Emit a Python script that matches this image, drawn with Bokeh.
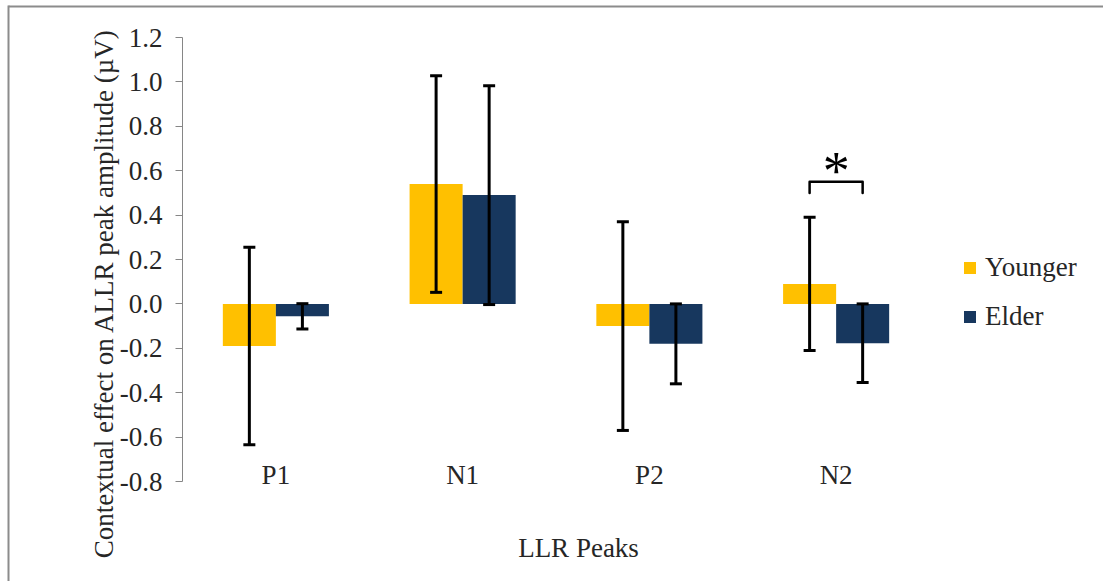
import math

from bokeh.core.properties import value
from bokeh.embed import file_html
from bokeh.models import (ColumnDataSource, FixedTicker, Label, Legend, LegendItem,
                          NumeralTickFormatter, PolyAnnotation, Range1d, TeeHead, Whisker)
from bokeh.plotting import figure
from bokeh.resources import INLINE

# ---- data -------------------------------------------------------------
peaks = ["P1", "N1", "P2", "N2"]
younger = [-0.19, 0.54, -0.10, 0.09]
younger_err = [0.445, 0.488, 0.47, 0.30]
elder = [-0.056, 0.49, -0.18, -0.177]
elder_err = [0.057, 0.493, 0.18, 0.177]
y_ticks = [-0.8, -0.6, -0.4, -0.2, 0.0, 0.2, 0.4, 0.6, 0.8, 1.0, 1.2]
significant_peak = "N2"

# ---- layout / style ------------------------------------------------------
W, H = 1103, 581
PLOT_L, PLOT_R, PLOT_T, PLOT_B = 182, 929, 37, 481   # plot area inside the canvas
FONT = "Liberation Serif"
FS = "27px"
TXT = "#262626"
YELLOW = "#FFC000"
NAVY = "#17375E"
AXIS_GREY = "#868686"
BAR_W = 0.284
OFF = BAR_W / 2

n = len(peaks)
px_x = (PLOT_R - PLOT_L) / n                     # pixels per category
px_y = (PLOT_B - PLOT_T) / (y_ticks[-1] - y_ticks[0])
x_lo = -0.5 - PLOT_L / px_x
x_hi = n - 0.5 + (W - PLOT_R) / px_x
y_lo = y_ticks[0] - (H - PLOT_B) / px_y
y_hi = y_ticks[-1] + PLOT_T / px_y


def data_x(px):
    return -0.5 + (px - PLOT_L) / px_x


def data_y(py):
    return y_ticks[0] + (PLOT_B - py) / px_y


pos = list(range(n))
src = ColumnDataSource(dict(
    xy=[i - OFF for i in pos],
    xe=[i + OFF for i in pos],
    younger=younger,
    elder=elder,
    y_lo=[v - e for v, e in zip(younger, younger_err)],
    y_hi=[v + e for v, e in zip(younger, younger_err)],
    e_lo=[v - e for v, e in zip(elder, elder_err)],
    e_hi=[v + e for v, e in zip(elder, elder_err)],
))

p = figure(
    x_range=Range1d(x_lo, x_hi), y_range=Range1d(y_lo, y_hi),
    width=W, height=H, min_border=0,
    output_backend="svg", toolbar_location=None,
)
p.xgrid.visible = False
p.ygrid.visible = False
p.outline_line_color = None
p.background_fill_color = "white"
p.border_fill_color = "white"

# ---- bars ---------------------------------------------------------------
r_y = p.vbar(x="xy", top="younger", width=BAR_W, fill_color=YELLOW, line_color=None, source=src)
r_e = p.vbar(x="xe", top="elder", width=BAR_W, fill_color=NAVY, line_color=None, source=src)

# ---- error bars ---------------------------------------------------------
for base, lo, hi in [("xy", "y_lo", "y_hi"), ("xe", "e_lo", "e_hi")]:
    w = Whisker(base=base, lower=lo, upper=hi, source=src, level="annotation",
                line_width=3, line_color="black",
                lower_head=TeeHead(size=12, line_width=3, line_color="black"),
                upper_head=TeeHead(size=12, line_width=3, line_color="black"))
    p.add_layout(w)

# ---- significance bracket ------------------------------------------------
si = peaks.index(significant_peak)
top_b = max(younger[si] + younger_err[si], elder[si] + elder_err[si]) + 0.16
p.line(x=[si - OFF, si - OFF, si + OFF, si + OFF],
       y=[top_b - 0.05, top_b, top_b, top_b - 0.05],
       line_width=2.5, line_color="black", line_join="round", line_cap="round")
p.text(x=[si], y=[top_b + 0.05], text=["*"], text_font=value(FONT),
       text_font_size="54px", text_align="center", text_baseline="alphabetic",
       text_color="black")

# ---- axes -----------------------------------------------------------------
ya = p.yaxis[0]
ya.fixed_location = -0.5
ya.bounds = (y_ticks[0], y_ticks[-1])
ya.ticker = FixedTicker(ticks=y_ticks)
ya.formatter = NumeralTickFormatter(format="0.0")
ya.axis_line_color = AXIS_GREY
ya.major_tick_line_color = AXIS_GREY
ya.major_tick_out = 7
ya.major_tick_in = 0
ya.minor_tick_line_color = None
ya.major_label_standoff = 13
ya.major_label_text_font = FONT
ya.major_label_text_font_size = FS
ya.major_label_text_color = TXT

xa = p.xaxis[0]
xa.fixed_location = y_ticks[0]
xa.ticker = FixedTicker(ticks=pos)
xa.major_label_overrides = {i: name for i, name in zip(pos, peaks)}
xa.axis_line_color = None
xa.major_tick_line_color = None
xa.minor_tick_line_color = None
xa.major_label_standoff = -28
xa.major_label_text_font = FONT
xa.major_label_text_font_size = FS
xa.major_label_text_color = TXT

p.add_layout(Label(x=data_x(103), y=data_y(293),
                   text="Contextual effect on ALLR peak amplitude (\u00b5V)",
                   angle=math.pi / 2, text_align="center", text_baseline="middle",
                   text_font=FONT, text_font_size=FS, text_color=TXT))
p.add_layout(Label(x=data_x(578), y=data_y(547),
                   text="LLR Peaks", text_align="center", text_baseline="middle",
                   text_font=FONT, text_font_size=FS, text_color=TXT))

# ---- legend -----------------------------------------------------------------
legend = Legend(items=[LegendItem(label="Younger", renderers=[r_y]),
                       LegendItem(label="Elder", renderers=[r_e])],
                location=(962, 249), margin=0, padding=0, spacing=18,
                glyph_width=15, glyph_height=15, label_height=30, label_standoff=8,
                label_text_font=FONT, label_text_font_size=FS, label_text_color=TXT,
                border_line_color=None, background_fill_alpha=0)
p.add_layout(legend)

# ---- chart frame (top and left edges) ----------------------------------------
p.add_layout(PolyAnnotation(xs=[8, W, W, 8], ys=[H - 5, H - 5, H - 7, H - 7],
                            xs_units="screen", ys_units="screen",
                            fill_color="#8c8c8c", fill_alpha=1, line_color=None))
p.add_layout(PolyAnnotation(xs=[7, 9, 9, 7], ys=[H - 5, H - 5, 0, 0],
                            xs_units="screen", ys_units="screen",
                            fill_color="#8c8c8c", fill_alpha=1, line_color=None))

open("out.html", "w").write(file_html(p, INLINE))
